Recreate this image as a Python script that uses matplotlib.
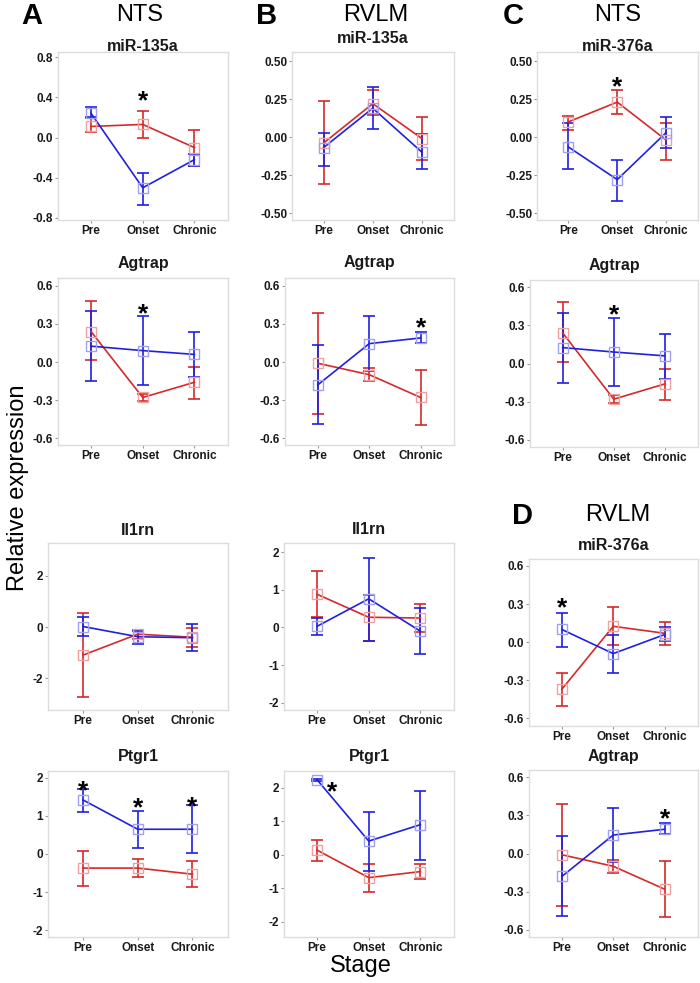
import matplotlib
matplotlib.use("Agg")
import matplotlib.pyplot as plt
import numpy as np

plt.rcParams['font.family'] = ['Liberation Sans', 'DejaVu Sans']

stages = ['Pre', 'Onset', 'Chronic']

# ---- data (mean, lower, upper) ----
# A  NTS miR-135a
a_mir_red = [0.11, 0.13, -0.10]
a_mir_red_lo = [0.05, 0.00, -0.28]
a_mir_red_hi = [0.19, 0.26, 0.07]
a_mir_blue = [0.24, -0.50, -0.22]
a_mir_blue_lo = [0.20, -0.67, -0.28]
a_mir_blue_hi = [0.30, -0.35, -0.16]
a_mir_star = [(2, 0.43)]

# B  RVLM miR-135a
b_mir_red = [-0.04, 0.22, -0.01]
b_mir_red_lo = [-0.31, 0.145, -0.15]
b_mir_red_hi = [0.24, 0.31, 0.13]
b_mir_blue = [-0.07, 0.19, -0.10]
b_mir_blue_lo = [-0.19, 0.05, -0.21]
b_mir_blue_hi = [0.03, 0.33, 0.02]
b_mir_star = []

# C  NTS miR-376a
c_mir_red = [0.10, 0.23, -0.02]
c_mir_red_lo = [0.045, 0.15, -0.15]
c_mir_red_hi = [0.14, 0.31, 0.09]
c_mir_blue = [-0.065, -0.28, 0.03]
c_mir_blue_lo = [-0.21, -0.42, -0.07]
c_mir_blue_hi = [0.09, -0.15, 0.13]
c_mir_star = [(2, 0.37)]

# NTS Agtrap (A and C)
nts_ag_red = [0.24, -0.28, -0.16]
nts_ag_red_lo = [0.015, -0.31, -0.29]
nts_ag_red_hi = [0.48, -0.25, -0.04]
nts_ag_blue = [0.125, 0.09, 0.06]
nts_ag_blue_lo = [-0.15, -0.18, -0.12]
nts_ag_blue_hi = [0.40, 0.36, 0.235]
nts_ag_star = [(2, 0.43)]

# RVLM Agtrap (B and D)
rv_ag_red = [-0.01, -0.10, -0.28]
rv_ag_red_lo = [-0.41, -0.15, -0.50]
rv_ag_red_hi = [0.39, -0.05, -0.06]
rv_ag_blue = [-0.18, 0.145, 0.19]
rv_ag_blue_lo = [-0.49, -0.07, 0.15]
rv_ag_blue_hi = [0.135, 0.36, 0.24]
rv_ag_star = [(3, 0.32)]

# A  NTS Il1rn
a_il_red = [-1.10, -0.28, -0.40]
a_il_red_lo = [-2.75, -0.45, -0.80]
a_il_red_hi = [0.55, -0.12, -0.05]
a_il_blue = [0.02, -0.38, -0.42]
a_il_blue_lo = [-0.35, -0.66, -0.93]
a_il_blue_hi = [0.38, -0.15, 0.10]
a_il_star = []

# B  RVLM Il1rn
b_il_red = [0.88, 0.27, 0.25]
b_il_red_lo = [0.27, -0.35, -0.13]
b_il_red_hi = [1.49, 0.87, 0.62]
b_il_blue = [0.03, 0.76, -0.10]
b_il_blue_lo = [-0.21, -0.35, -0.70]
b_il_blue_hi = [0.25, 1.85, 0.52]
b_il_star = []

# A  NTS Ptgr1
a_pt_red = [-0.37, -0.37, -0.53]
a_pt_red_lo = [-0.85, -0.61, -0.87]
a_pt_red_hi = [0.08, -0.14, -0.19]
a_pt_blue = [1.42, 0.65, 0.65]
a_pt_blue_lo = [1.10, 0.15, 0.02]
a_pt_blue_hi = [1.71, 1.13, 1.28]
a_pt_star = [(1, 1.82), (2, 1.37), (3, 1.42)]

# B  RVLM Ptgr1
b_pt_red = [0.14, -0.68, -0.50]
b_pt_red_lo = [-0.18, -1.10, -0.72]
b_pt_red_hi = [0.44, -0.27, -0.27]
b_pt_blue = [2.24, 0.41, 0.90]
b_pt_blue_lo = [2.20, -0.48, -0.16]
b_pt_blue_hi = [2.27, 1.29, 1.90]
b_pt_star = [(1.3, 2.08)]

# D  RVLM miR-376a
d_mir_red = [-0.37, 0.125, 0.07]
d_mir_red_lo = [-0.505, -0.02, -0.02]
d_mir_red_hi = [-0.245, 0.28, 0.16]
d_mir_blue = [0.10, -0.09, 0.06]
d_mir_blue_lo = [-0.035, -0.24, 0.01]
d_mir_blue_hi = [0.23, 0.06, 0.12]
d_mir_star = [(1, 0.32)]

W, H = 700, 983
fig = plt.figure(figsize=(7, 9.83), dpi=100)

RED, RED_M = '#d42a2a', '#f0a0a0'
BLUE, BLUE_M = '#2020e0', '#a0a0f0'
TXT = '#1a1a1a'


def panel(box, title, title_y, ylim, yticks, fmt, red, blue, stars):
    x0, x1, y0, y1 = box
    ax = fig.add_axes([x0 / W, 1 - y1 / H, (x1 - x0) / W, (y1 - y0) / H])
    x = np.arange(1, 4)
    for (m, lo, hi), lc, mc in [(red, RED, RED_M), (blue, BLUE, BLUE_M)]:
        m, lo, hi = np.array(m), np.array(lo), np.array(hi)
        ax.errorbar(x, m, yerr=[m - lo, hi - m], color=lc, lw=1.2,
                    capsize=4, capthick=1.2, zorder=2)
        ax.plot(x, m, 's', mfc='none', mec=mc, mew=1.0, ms=7, zorder=3)
    for sx, sy in stars:
        ax.annotate('*', xy=(sx, sy), xytext=(0, -10), textcoords='offset points',
                    ha='center', va='baseline', fontsize=19, fontweight='bold',
                    color='black')
    ax.set_xlim(0.36, 3.65)
    ax.set_ylim(*ylim)
    ax.set_xticks(x)
    ax.set_xticklabels(stages)
    ax.set_yticks(yticks)
    ax.set_yticklabels([fmt.format(v) for v in yticks])
    for s in ax.spines.values():
        s.set_color('#dcdcdc')
        s.set_linewidth(1.0)
    ax.tick_params(length=2, width=0.8, color='#999999', pad=1.5,
                   labelsize=8.5, labelcolor=TXT)
    for lab in ax.get_xticklabels() + ax.get_yticklabels():
        lab.set_fontweight('bold')
    fig.text((x0 + x1) / 2 / W, 1 - title_y / H, title, ha='center',
             va='baseline', fontsize=11.5, fontweight='bold', color=TXT)
    return ax


t08 = [-0.8, -0.4, 0.0, 0.4, 0.8]
t05 = [-0.5, -0.25, 0.0, 0.25, 0.5]
t06 = [-0.6, -0.3, 0.0, 0.3, 0.6]
t2 = [-2, 0, 2]
t21 = [-2, -1, 0, 1, 2]

panel((58, 228, 52, 220), 'miR-135a', 51, (-0.82, 0.85), t08, '{:.1f}',
      (a_mir_red, a_mir_red_lo, a_mir_red_hi),
      (a_mir_blue, a_mir_blue_lo, a_mir_blue_hi), a_mir_star)
panel((292, 454, 52, 220), 'miR-135a', 43, (-0.546, 0.56), t05, '{:.2f}',
      (b_mir_red, b_mir_red_lo, b_mir_red_hi),
      (b_mir_blue, b_mir_blue_lo, b_mir_blue_hi), b_mir_star)
panel((537, 698, 52, 220), 'miR-376a', 51, (-0.546, 0.56), t05, '{:.2f}',
      (c_mir_red, c_mir_red_lo, c_mir_red_hi),
      (c_mir_blue, c_mir_blue_lo, c_mir_blue_hi), c_mir_star)

panel((58, 228, 278, 445), 'Agtrap', 268, (-0.655, 0.663), t06, '{:.1f}',
      (nts_ag_red, nts_ag_red_lo, nts_ag_red_hi),
      (nts_ag_blue, nts_ag_blue_lo, nts_ag_blue_hi), nts_ag_star)
panel((285, 454, 278, 445), 'Agtrap', 267, (-0.655, 0.663), t06, '{:.1f}',
      (rv_ag_red, rv_ag_red_lo, rv_ag_red_hi),
      (rv_ag_blue, rv_ag_blue_lo, rv_ag_blue_hi), rv_ag_star)
panel((530, 698, 280, 447), 'Agtrap', 270, (-0.655, 0.655), t06, '{:.1f}',
      (nts_ag_red, nts_ag_red_lo, nts_ag_red_hi),
      (nts_ag_blue, nts_ag_blue_lo, nts_ag_blue_hi), nts_ag_star)

panel((48, 228, 543, 710), 'Il1rn', 535, (-3.25, 3.29), t2, '{:d}',
      (a_il_red, a_il_red_lo, a_il_red_hi),
      (a_il_blue, a_il_blue_lo, a_il_blue_hi), a_il_star)
panel((284, 454, 543, 710), 'Il1rn', 534, (-2.19, 2.24), t21, '{:d}',
      (b_il_red, b_il_red_lo, b_il_red_hi),
      (b_il_blue, b_il_blue_lo, b_il_blue_hi), b_il_star)
panel((529, 698, 559, 726), 'miR-376a', 550, (-0.66, 0.655), t06, '{:.1f}',
      (d_mir_red, d_mir_red_lo, d_mir_red_hi),
      (d_mir_blue, d_mir_blue_lo, d_mir_blue_hi), d_mir_star)

panel((48, 228, 771, 937), 'Ptgr1', 761, (-2.18, 2.18), t21, '{:d}',
      (a_pt_red, a_pt_red_lo, a_pt_red_hi),
      (a_pt_blue, a_pt_blue_lo, a_pt_blue_hi), a_pt_star)
panel((284, 454, 771, 937), 'Ptgr1', 761, (-2.45, 2.5), t21, '{:d}',
      (b_pt_red, b_pt_red_lo, b_pt_red_hi),
      (b_pt_blue, b_pt_blue_lo, b_pt_blue_hi), b_pt_star)
panel((529, 698, 770, 937), 'Agtrap', 761, (-0.655, 0.655), t06, '{:.1f}',
      (rv_ag_red, rv_ag_red_lo, rv_ag_red_hi),
      (rv_ag_blue, rv_ag_blue_lo, rv_ag_blue_hi), rv_ag_star)

# panel letters and region headers
for lx, ly, letter, hx, region in [(32, 16, 'A', 140, 'NTS'),
                                   (267, 16, 'B', 376, 'RVLM'),
                                   (513, 16, 'C', 618, 'NTS'),
                                   (522, 516, 'D', 618, 'RVLM')]:
    fig.text(lx / W, 1 - ly / H, letter, ha='center', va='center',
             fontsize=21, fontweight='bold', color='black')
    fig.text(hx / W, 1 - (ly - 1) / H, region, ha='center', va='center',
             fontsize=17, color='black')

fig.text(18 / W, 1 - 488 / H, 'Relative expression', rotation=90,
         ha='center', va='center', fontsize=17, color='black')
fig.text(361 / W, 1 - 966 / H, 'Stage', ha='center', va='center',
         fontsize=17, color='black')

fig.savefig('out.png', dpi=100)
